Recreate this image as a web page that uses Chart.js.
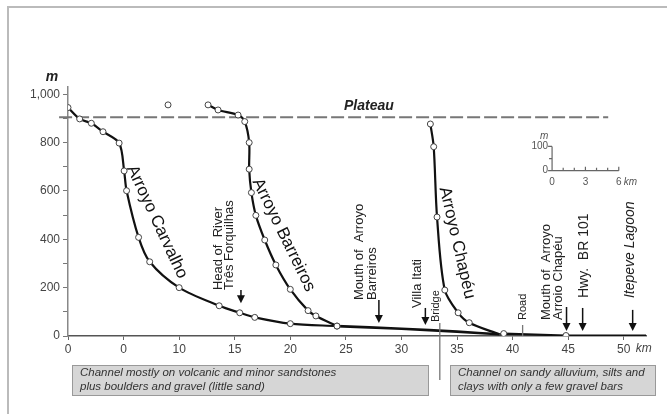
<!DOCTYPE html>
<html>
<head>
<meta charset="utf-8">
<script src="https://cdn.jsdelivr.net/npm/chart.js@4"></script>
<style>
  body { margin: 0; background: #fff; }
</style>
</head>
<body>
<canvas id="profile" width="667" height="414"></canvas>
<script>
// river long profiles, km downstream vs elevation (m)
const carvalhoKm = [0, 1.05, 2.1, 3.15, 4.6, 5.05, 5.27, 6.35, 7.35, 10, 13.6, 15.45, 16.8, 20, 24.2];
const carvalhoM = [945, 898, 880, 845, 798, 683, 601, 408, 307, 200, 125, 96, 77, 51, 41];

const barreirosKm = [12.6, 13.5, 15.3, 15.9, 16.3, 16.3, 16.5, 16.9, 17.7, 18.7, 20, 21.6, 22.3, 24.2];
const barreirosM = [956, 935, 914, 887, 800, 690, 593, 499, 397, 294, 193, 105, 83, 41];

const chapeuKm = [32.6, 32.9, 33.2, 33.9, 35.1, 36.1, 38.8];
const chapeuM = [877, 783, 492, 190, 96, 55, 7];

const mainKm = [24.2, 30, 35, 38.8];
const mainM = [41, 30, 18, 7];

const lowerKm = [38.8, 39.2, 44.8, 52];
const lowerM = [7, 10, 2, 2];
const lowerDots = [0, 3, 3, 0];

const loneKm = [9];
const loneM = [956];

const plateauKm = [-0.8, 48.6];
const plateauM = 905;

const xTicks = [0, 5, 10, 15, 20, 25, 30, 35, 40, 45, 50];
const xTickLabels = ['0', '0', '10', '15', '20', '25', '30', '35', '40', '45', '50'];
const yTicks = [0, 100, 200, 300, 400, 500, 600, 700, 800, 900, 1000];

const FONT = '"Liberation Sans", Arial, Helvetica, sans-serif';

function pts(xs, ys) {
  return xs.map((x, i) => ({ x: x, y: Array.isArray(ys) ? ys[i] : ys }));
}

const curve = {
  borderColor: '#111',
  borderWidth: 2.2,
  pointRadius: 3,
  pointBorderWidth: 1,
  pointBorderColor: '#444',
  pointBackgroundColor: '#fff',
  tension: 0.3,
  order: 1
};

// text and arrows that sit on top of the profile
const labels = [
  { lines: ['Head of  River', 'Três Forquilhas'], km: [13.53, 14.52], m: 190, size: 13 },
  { lines: ['Mouth of  Arroyo', 'Barreiros'], km: [26.26, 27.4], m: 149, size: 13 },
  { lines: ['Villa Itati'], km: [31.47], m: 116, size: 13 },
  { lines: ['Bridge'], km: [33.09], m: 58, size: 11 },
  { lines: ['Road'], km: [40.89], m: 66, size: 11 },
  { lines: ['Mouth of  Arroyo', 'Arroio Chapéu'], km: [43.05, 44.15], m: 66, size: 13 },
  { lines: ['Hwy.  BR 101'], km: [46.4], m: 157, size: 14 },
  { lines: ['Itepeve Lagoon'], km: [50.54], m: 157, size: 14, italic: true }
];

const arrows = [
  { km: 15.56, from: 190, to: 135 },
  { km: 27.97, from: 149, to: 54 },
  { km: 32.15, from: 116, to: 45 },
  { km: 44.85, from: 120, to: 21 },
  { km: 46.3, from: 116, to: 21 },
  { km: 50.8, from: 108, to: 21 }
];

const riverNames = [
  { text: 'Arroyo Carvalho', km: 8.0, m: 472, angle: 65 },
  { text: 'Arroyo Barreiros', km: 19.4, m: 418, angle: 64 },
  { text: 'Arroyo Chapéu', km: 35.0, m: 385, angle: 77 }
];

const extras = {
  id: 'extras',
  afterDatasetsDraw(chart) {
    const ctx = chart.ctx;
    const xs = chart.scales.x;
    const ys = chart.scales.y;
    const X = v => xs.getPixelForValue(v);
    const Y = v => ys.getPixelForValue(v);

    ctx.save();

    // frame
    ctx.strokeStyle = '#bbb';
    ctx.lineWidth = 2;
    ctx.beginPath();
    ctx.moveTo(8, 414);
    ctx.lineTo(8, 7);
    ctx.lineTo(667, 7);
    ctx.stroke();

    // axis unit
    ctx.fillStyle = '#222';
    ctx.font = 'italic bold 14px ' + FONT;
    ctx.textAlign = 'center';
    ctx.textBaseline = 'middle';
    ctx.fillText('m', 52, 77);

    // km after last tick
    ctx.font = 'italic 12px ' + FONT;
    ctx.fillStyle = '#444';
    ctx.textAlign = 'left';
    ctx.fillText('km', X(50) + 12, xs.top + 13);

    // plateau
    ctx.font = 'italic bold 14px ' + FONT;
    ctx.fillStyle = '#222';
    ctx.textAlign = 'center';
    ctx.fillText('Plateau', X(27.07), Y(949));

    // river names
    ctx.font = '17px ' + FONT;
    ctx.fillStyle = '#111';
    riverNames.forEach(r => {
      ctx.save();
      ctx.translate(X(r.km), Y(r.m));
      ctx.rotate(r.angle * Math.PI / 180);
      ctx.textAlign = 'center';
      ctx.textBaseline = 'middle';
      ctx.fillText(r.text, 0, 0);
      ctx.restore();
    });

    // vertical labels
    ctx.fillStyle = '#222';
    labels.forEach(l => {
      ctx.font = (l.italic ? 'italic ' : '') + l.size + 'px ' + FONT;
      l.lines.forEach((t, i) => {
        ctx.save();
        ctx.translate(X(l.km[i]), Y(l.m));
        ctx.rotate(-Math.PI / 2);
        ctx.textAlign = 'left';
        ctx.textBaseline = 'middle';
        ctx.fillText(t, 0, 0);
        ctx.restore();
      });
    });

    // arrows
    ctx.strokeStyle = '#111';
    ctx.fillStyle = '#111';
    ctx.lineWidth = 1.5;
    arrows.forEach(a => {
      const x = X(a.km), y0 = Y(a.from), y1 = Y(a.to);
      ctx.beginPath();
      ctx.moveTo(x, y0);
      ctx.lineTo(x, y1 - 6);
      ctx.stroke();
      ctx.beginPath();
      ctx.moveTo(x - 4, y1 - 8);
      ctx.lineTo(x + 4, y1 - 8);
      ctx.lineTo(x, y1);
      ctx.closePath();
      ctx.fill();
    });

    // bridge line and road tick
    ctx.strokeStyle = '#777';
    ctx.lineWidth = 1.3;
    ctx.beginPath();
    ctx.moveTo(X(33.45), Y(54));
    ctx.lineTo(X(33.45), ys.bottom + 44);
    ctx.moveTo(X(40.9), Y(45));
    ctx.lineTo(X(40.9), Y(0));
    ctx.stroke();

    // inset scale
    const ox = X(43.55), oy = Y(684);
    const kx = X(6) - X(0), my = Y(0) - Y(100);
    ctx.strokeStyle = '#666';
    ctx.lineWidth = 1.2;
    ctx.beginPath();
    ctx.moveTo(ox, oy - my);
    ctx.lineTo(ox, oy);
    ctx.lineTo(ox + kx, oy);
    ctx.moveTo(ox - 4, oy - my); ctx.lineTo(ox, oy - my);
    ctx.moveTo(ox - 4, oy); ctx.lineTo(ox, oy);
    ctx.moveTo(ox - 3, oy - my / 2); ctx.lineTo(ox, oy - my / 2);
    for (let k = 0; k <= 6; k++) {
      const tx = ox + kx * k / 6;
      ctx.moveTo(tx, oy);
      ctx.lineTo(tx, oy - (k % 3 === 0 ? 4 : 3));
    }
    ctx.stroke();
    ctx.fillStyle = '#555';
    ctx.font = '10px ' + FONT;
    ctx.textAlign = 'right';
    ctx.textBaseline = 'middle';
    ctx.fillText('100', ox - 4, oy - my);
    ctx.fillText('0', ox - 4, oy);
    ctx.font = 'italic 10px ' + FONT;
    ctx.textAlign = 'center';
    ctx.fillText('m', ox - 8, oy - my - 10);
    ctx.font = '10px ' + FONT;
    ctx.fillText('0', ox, oy + 12);
    ctx.fillText('3', ox + kx / 2, oy + 12);
    ctx.fillText('6', ox + kx, oy + 12);
    ctx.font = 'italic 10px ' + FONT;
    ctx.textAlign = 'left';
    ctx.fillText('km', ox + kx + 5, oy + 12);

    // substrate boxes
    const boxes = [
      { x: 72, w: 356, lines: ['Channel mostly on volcanic and minor sandstones', 'plus boulders and gravel (little sand)'] },
      { x: 450, w: 205, lines: ['Channel on sandy alluvium, silts and', 'clays with only a few gravel bars'] }
    ];
    boxes.forEach(b => {
      ctx.fillStyle = '#d6d6d6';
      ctx.fillRect(b.x, 365, b.w, 30);
      ctx.strokeStyle = '#999';
      ctx.lineWidth = 1;
      ctx.strokeRect(b.x + 0.5, 365.5, b.w, 30);
      ctx.fillStyle = '#333';
      ctx.font = 'italic 11.5px ' + FONT;
      ctx.textAlign = 'left';
      ctx.textBaseline = 'middle';
      b.lines.forEach((t, i) => ctx.fillText(t, b.x + 8, 373 + i * 13.5));
    });

    ctx.restore();
  }
};

new Chart(document.getElementById('profile'), {
  type: 'line',
  data: {
    datasets: [
      Object.assign({ label: 'Arroyo Carvalho', data: pts(carvalhoKm, carvalhoM) }, curve),
      Object.assign({ label: 'Arroyo Barreiros', data: pts(barreirosKm, barreirosM) }, curve),
      Object.assign({ label: 'Arroyo Chapéu', data: pts(chapeuKm, chapeuM) }, curve,
        { pointRadius: chapeuKm.map((k, i) => i === chapeuKm.length - 1 ? 0 : 3) }),
      Object.assign({ label: 'Três Forquilhas', data: pts(mainKm, mainM) }, curve, { pointRadius: 0, borderWidth: 2.6 }),
      Object.assign({ label: 'lower', data: pts(lowerKm, lowerM) }, curve, { pointRadius: lowerDots, tension: 0 }),
      Object.assign({ label: 'lone', data: pts(loneKm, loneM) }, curve, { showLine: false }),
      {
        label: 'Plateau',
        data: pts(plateauKm, plateauM),
        borderColor: '#777',
        borderWidth: 2,
        borderDash: [13, 4],
        pointRadius: 0,
        clip: false,
        order: 5
      }
    ]
  },
  options: {
    responsive: false,
    animation: false,
    layout: { padding: { left: 0, top: 87, right: 21, bottom: 56 } },
    plugins: { legend: { display: false }, tooltip: { enabled: false } },
    scales: {
      x: {
        type: 'linear',
        min: 0,
        max: 52,
        afterFit: s => { s.height = 22; },
        afterBuildTicks: s => { s.ticks = xTicks.map(v => ({ value: v })); },
        grid: { drawOnChartArea: false, tickLength: 4, tickColor: '#666' },
        border: { color: '#555', width: 1.5 },
        ticks: {
          autoSkip: false,
          maxRotation: 0,
          padding: 2,
          color: '#444',
          font: { family: FONT, size: 12 },
          callback: (v, i) => xTickLabels[i]
        }
      },
      y: {
        min: 0,
        max: 1030,
        afterFit: s => { s.width = 68; },
        afterBuildTicks: s => { s.ticks = yTicks.map(v => ({ value: v })); },
        grid: { drawOnChartArea: false, tickLength: 5, tickColor: '#777' },
        border: { color: '#888', width: 1.5 },
        ticks: {
          autoSkip: false,
          padding: 3,
          color: '#444',
          font: { family: FONT, size: 12 },
          callback: v => v % 200 === 0 ? v.toLocaleString('en-US') : ''
        }
      }
    }
  },
  plugins: [extras]
});
</script>
</body>
</html>
